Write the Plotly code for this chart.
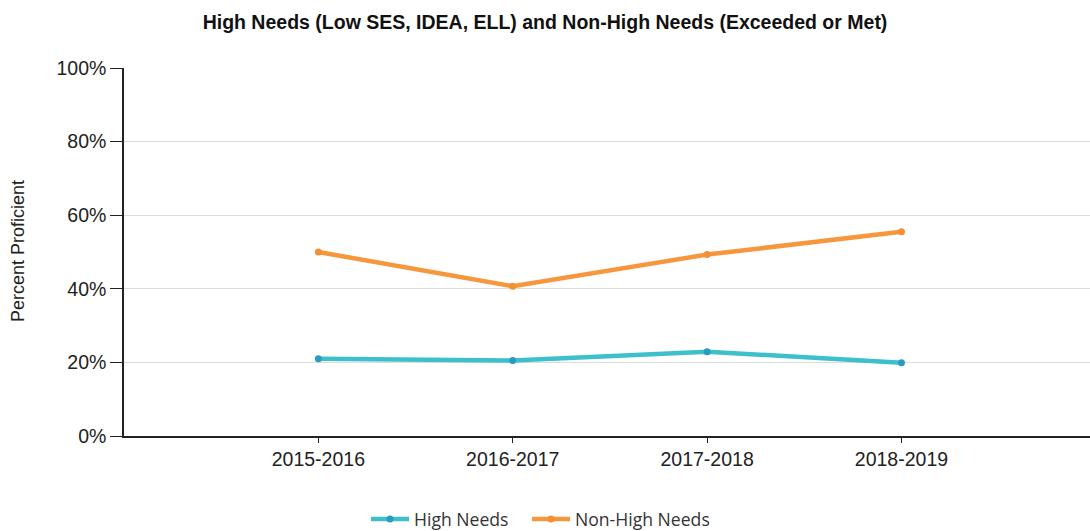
import plotly.graph_objects as go

years = ["2015-2016", "2016-2017", "2017-2018", "2018-2019"]
high_needs = [21.0, 20.5, 22.9, 19.9]
non_high_needs = [50.0, 40.7, 49.3, 55.5]
y_ticks = [0, 20, 40, 60, 80, 100]
y_tick_labels = ["0%", "20%", "40%", "60%", "80%", "100%"]

x_pos = list(range(len(years)))

W, H = 1090, 531
L, R, T, B = 124, 0, 68, 95
plot_w, plot_h = W - L - R, H - T - B

fig = go.Figure()
fig.add_trace(go.Scatter(
    x=x_pos, y=high_needs, name="High Needs", mode="lines+markers",
    line=dict(color="#3DC0CC", width=4.5),
    marker=dict(color="#2A9CC0", size=7),
    legend="legend",
))
fig.add_trace(go.Scatter(
    x=x_pos, y=non_high_needs, name="Non-High Needs", mode="lines+markers",
    line=dict(color="#F7973D", width=4.5),
    marker=dict(color="#F39035", size=7),
    legend="legend2",
))

axis_font = dict(family="Liberation Sans, Arial", size=19.5, color="#222")
legend_font = dict(family="Open Sans, DejaVu Sans", size=17.6, color="#333")
legend_y = -(519 - (H - B)) / plot_h


def legend_at(px_left):
    return dict(
        orientation="h", x=(px_left - L) / plot_w, xanchor="left",
        y=legend_y, yanchor="middle", font=legend_font,
        itemwidth=38, bgcolor="rgba(0,0,0,0)",
    )


fig.update_layout(
    width=W, height=H,
    paper_bgcolor="white", plot_bgcolor="white",
    margin=dict(l=L, r=R, t=T, b=B, autoexpand=False),
    title=dict(
        text="<b>High Needs (Low SES, IDEA, ELL) and Non-High Needs (Exceeded or Met)</b>",
        x=0.5, xanchor="center", xref="container",
        y=1 - 22 / H, yanchor="middle", yref="container",
        font=dict(family="Liberation Sans, Arial", size=19.5, color="#111"),
    ),
    showlegend=True,
    legend=legend_at(366),
    legend2=legend_at(527),
    xaxis=dict(
        range=[-1, 3.97], tickvals=x_pos, ticktext=years,
        showgrid=False, zeroline=False,
        showline=True, linecolor="#222", linewidth=1.5,
        ticks="outside", ticklen=5, tickcolor="#222",
        tickfont=axis_font,
    ),
    yaxis=dict(
        range=[0, 100], tickvals=y_ticks, ticktext=y_tick_labels,
        showgrid=True, gridcolor="#DCDCDC", gridwidth=1, zeroline=False,
        showline=True, linecolor="#222", linewidth=1.5,
        ticks="outside", ticklen=12, tickcolor="#222",
        tickfont=axis_font,
    ),
    annotations=[dict(
        text="Percent Proficient", textangle=-90,
        xref="paper", yref="paper",
        x=(18 - L) / plot_w, y=(H - B - 251) / plot_h,
        xanchor="center", yanchor="middle", showarrow=False,
        font=dict(family="Liberation Sans, Arial", size=18, color="#222"),
    )],
)

fig.write_html("out.html")
